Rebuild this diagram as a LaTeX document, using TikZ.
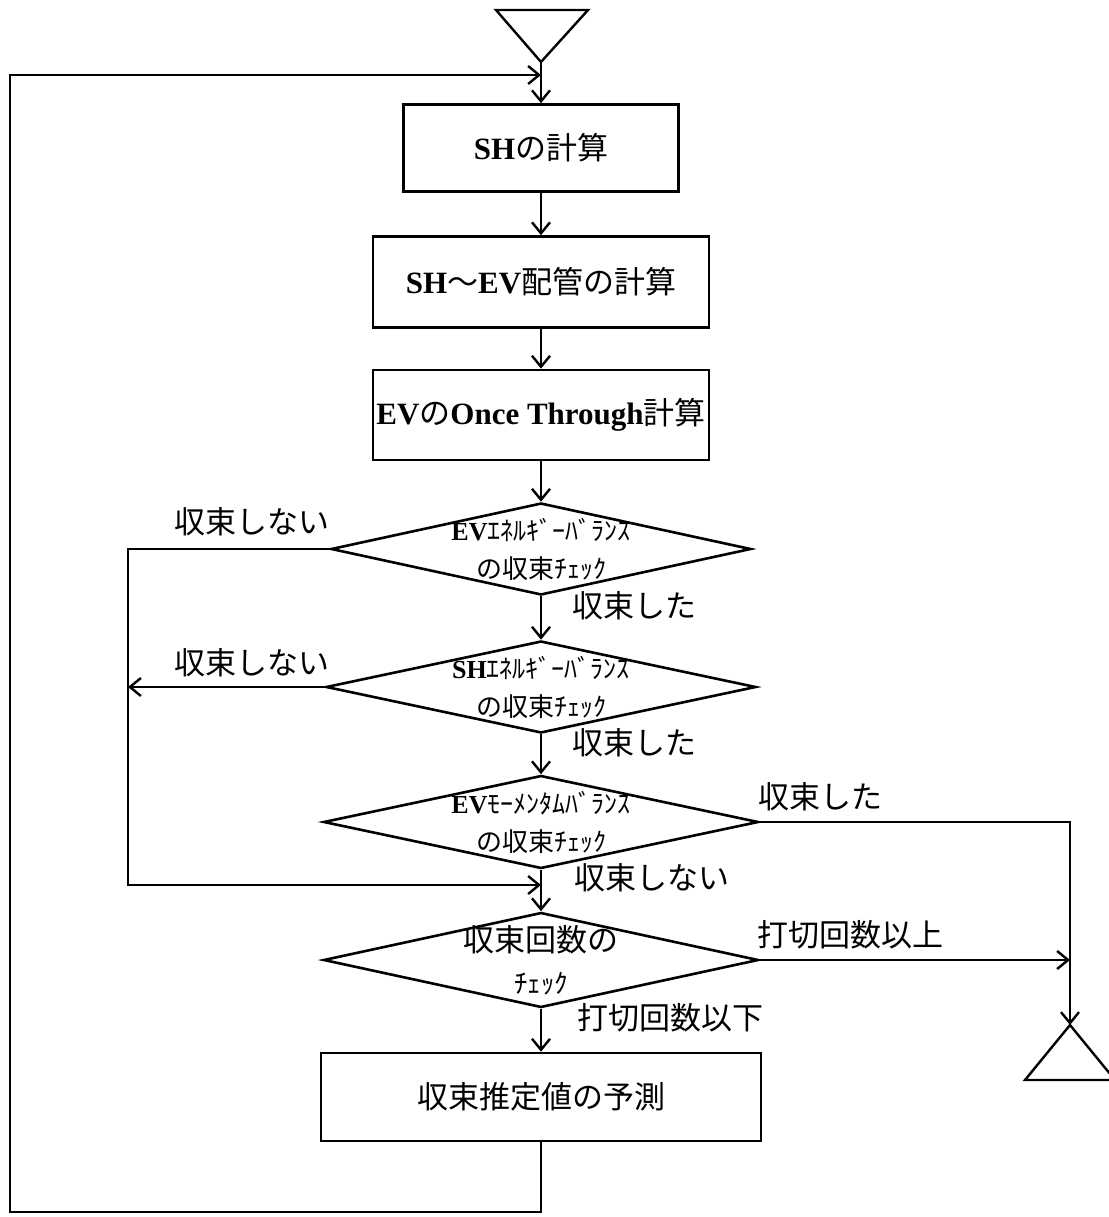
\documentclass[tikz,border=0pt]{standalone}
\usepackage{fontspec}
\setmainfont{Liberation Serif}
\newfontfamily\cjk{Noto Sans CJK JP}
\usetikzlibrary{shapes.geometric,arrows.meta}
\newcommand\J[1]{{\cjk #1}}
\newcommand\Lt[1]{{\bfseries #1}}
\begin{document}
\begin{tikzpicture}[x=1pt,y=-1pt,
  box/.style={draw, line width=2.6pt, rectangle, inner sep=0pt, font=\fontsize{31}{34}\selectfont},
  dia/.style={draw, line width=2.6pt, diamond, inner sep=0pt},
  dtext/.style={align=center, font=\fontsize{26}{38}\selectfont, inner sep=0pt},
  lab/.style={font=\cjk\fontsize{31}{34}\selectfont, inner sep=0pt},
  conn/.style={line width=2.4pt, line join=miter},
  flow/.style={conn, -{Straight Barb[length=11pt,width=18pt,line width=2.4pt]}},
]
\useasboundingbox (0,0) rectangle (1108,1217);
\fill[white] (0,0) rectangle (1108,1217);

% start triangle
\coordinate (s) at (541,62);
\draw[conn] (496,10) -- (588,10) -- (s) -- cycle;

% boxes
\node[box, minimum width=275pt, minimum height=87pt] (b1) at (541,148) {\Lt{SH}\J{の計算}};
\node[box, minimum width=336pt, minimum height=91pt] (b2) at (541,282) {\Lt{SH}\J{～}\Lt{EV}\J{配管の計算}};
\node[box, minimum width=336pt, minimum height=90pt] (b3) at (541,415) {\Lt{EV}\J{の}\Lt{Once Through}\J{計算}};

% diamonds
\node[dia, minimum width=420pt, minimum height=92pt,
  label={[dtext]center:{\Lt{EV}\J{ｴﾈﾙｷﾞｰﾊﾞﾗﾝｽ}\\\J{の収束ﾁｪｯｸ}}}] (d1) at (541,549) {};
\node[dia, minimum width=430pt, minimum height=92pt,
  label={[dtext]center:{\Lt{SH}\J{ｴﾈﾙｷﾞｰﾊﾞﾗﾝｽ}\\\J{の収束ﾁｪｯｸ}}}] (d2) at (541,687) {};
\node[dia, minimum width=435pt, minimum height=93pt,
  label={[dtext]center:{\Lt{EV}\J{ﾓｰﾒﾝﾀﾑﾊﾞﾗﾝｽ}\\\J{の収束ﾁｪｯｸ}}}] (d3) at (541,822) {};
\node[dia, minimum width=435pt, minimum height=95pt,
  label={[dtext, font=\fontsize{31}{42}\selectfont]center:{\J{収束回数の}\\\J{\fontsize{27}{30}\selectfont ﾁｪｯｸ}}}] (d4) at (541,960) {};

\node[box, minimum width=440pt, minimum height=88pt] (b5) at (541,1097) {\J{収束推定値の予測}};

% labels
\node[lab] (n1) at (252,522) {収束しない};
\node[lab] (y1) at (634,606) {収束した};
\node[lab] (n2) at (252,663) {収束しない};
\node[lab] (y2) at (634,743) {収束した};
\node[lab] (y3) at (820,797) {収束した};
\node[lab] (n3) at (652,878) {収束しない};
\node[lab] (u1) at (850,935) {打切回数以上};
\node[lab] (u2) at (670,1018) {打切回数以下};

% coordinates
\coordinate (tl) at (10,75);
\coordinate (tj) at (541,75);
\coordinate (bl) at (10,1212);
\coordinate (br) at (541,1212);
\coordinate (lt) at (128,549);
\coordinate (lb) at (128,885);
\coordinate (mj) at (541,885);
\coordinate (l2) at (128,687);
\coordinate (r1) at (1070,822);
\coordinate (r2) at (1070,960);
\coordinate (e) at (1070,1025);

% main flow
\draw[flow] (s) -- (b1);
\draw[flow] (b1) -- (b2);
\draw[flow] (b2) -- (b3);
\draw[flow] (b3) -- (d1);
\draw[flow] (d1) -- (d2);
\draw[flow] (d2) -- (d3);
\draw[flow] (d3) -- (d4);
\draw[flow] (d4) -- (b5);

% loops
\draw[flow] (b5.south) -- (br) -- (bl) -- (tl) -- (tj);
\draw[flow] (d1.west) -- (lt) -- (lb) -- (mj);
\draw[flow] (d2.west) -- (l2);
\draw[flow] (d3.east) -- (r1) -- (e);
\draw[flow] (d4.east) -- (r2);

% end triangle
\draw[conn] (e) -- (1025,1080) -- (1115,1080) -- cycle;
\end{tikzpicture}
\end{document}
